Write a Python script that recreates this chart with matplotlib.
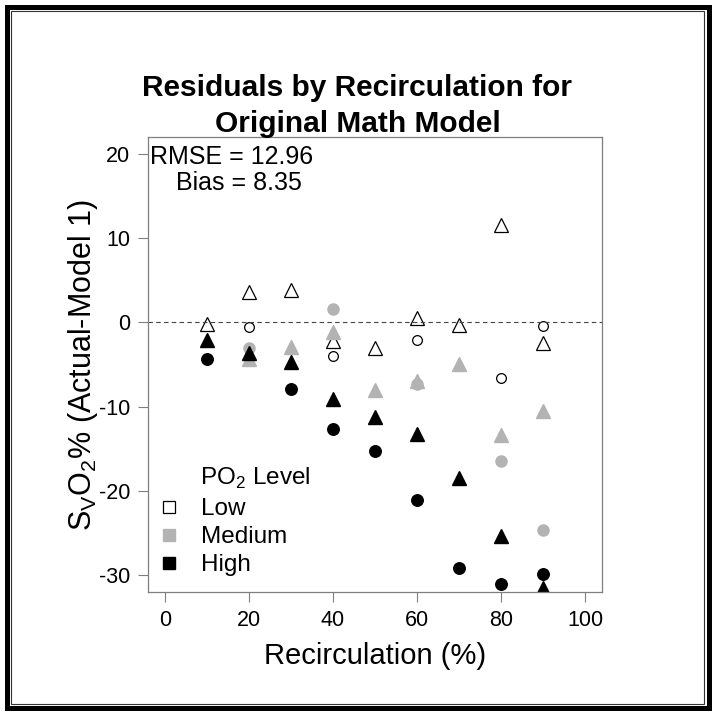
import numpy as np
import matplotlib
matplotlib.use("Agg")
from matplotlib import pyplot as plt
from matplotlib.lines import Line2D
from matplotlib.patches import Rectangle

plt.rcParams['font.family'] = ['Liberation Sans', 'DejaVu Sans']
plt.rcParams['mathtext.fontset'] = 'custom'
plt.rcParams['mathtext.rm'] = 'Liberation Sans'
plt.rcParams['axes.unicode_minus'] = False

nan = np.nan

# Recirculation levels (%)
recirc = [10, 20, 30, 40, 50, 60, 70, 80, 90]

# Residuals (triangles and circles per PO2 level)
low_tri = [-0.2, 3.6, 3.9, -2.2, -3.1, 0.5, -0.3, 11.6, -2.4]
low_circ = [nan, -0.5, nan, -4.0, nan, -2.1, nan, -6.6, -0.4]
med_tri = [nan, -4.4, -2.9, -1.1, -8.0, -7.0, -4.9, -13.4, -10.5]
med_circ = [nan, -3.1, nan, 1.6, nan, -7.3, nan, -16.5, -24.6]
high_tri = [-2.1, -3.6, -4.7, -9.1, -11.2, -13.2, -18.5, -25.3, -31.5]
high_circ = [-4.3, nan, -7.9, -12.7, -15.3, -21.1, -29.2, -31.1, -29.9]

levels = ['Low', 'Medium', 'High']
x_ticks = [0, 20, 40, 60, 80, 100]
y_ticks = [-30, -20, -10, 0, 10, 20]
rmse = 12.96
bias = 8.35

GRAY = '#b3b3b3'
AXC = '#7f7f7f'

fig = plt.figure(figsize=(7.15, 7.14), dpi=100)
W, H = 715, 714
ax = fig.add_axes([148 / W, 1 - 592 / H, (602 - 148) / W, (592 - 137) / H])

# Low: open markers
ax.plot(recirc, low_tri, ls='none', marker='^', ms=10, mfc='none', mec='black', mew=0.9)
ax.plot(recirc, low_circ, ls='none', marker='o', ms=7, mfc='none', mec='black', mew=0.9)
# Medium: gray
ax.plot(recirc, med_circ, ls='none', marker='o', ms=8, mfc=GRAY, mec=GRAY)
ax.plot(recirc, med_tri, ls='none', marker='^', ms=10, mfc=GRAY, mec=GRAY)
# High: black
ax.plot(recirc, high_circ, ls='none', marker='o', ms=8.3, mfc='black', mec='black')
ax.plot(recirc, high_tri, ls='none', marker='^', ms=10, mfc='black', mec='black')

ax.axhline(0, color='#444444', lw=0.8, ls=(0, (4, 3)))

ax.set_xlim(-4, 104)
ax.set_ylim(-32, 22)
ax.set_xticks(x_ticks)
ax.set_yticks(y_ticks)
ax.tick_params(axis='both', direction='out', length=7, width=0.8, color=AXC,
               labelsize=15.5, pad=6)
for s in ax.spines.values():
    s.set_color(AXC)
    s.set_linewidth(0.9)

ax.set_xlabel('Recirculation (%)', fontsize=21, labelpad=8)
ax.set_ylabel(r'S$_\mathregular{V}$O$_\mathregular{2}$% (Actual-Model 1)', fontsize=22, labelpad=-1)

# stats text
ax.text(0.004, 0.956, 'RMSE = %.2f' % rmse, transform=ax.transAxes, fontsize=18,
        ha='left', va='center')
ax.text(0.062, 0.899, 'Bias = %.2f' % bias, transform=ax.transAxes, fontsize=18,
        ha='left', va='center')

# legend
handles = [Line2D([], [], ls='none', marker='s', ms=8, mfc='none', mec='black', mew=0.9),
           Line2D([], [], ls='none', marker='s', ms=8, mfc=GRAY, mec=GRAY),
           Line2D([], [], ls='none', marker='s', ms=8, mfc='black', mec='black')]
ax.legend(handles, levels, loc='upper left', bbox_to_anchor=((157 - 148) / 454, (592 - 498) / 455),
          frameon=False, fontsize=17.5, handlelength=1.0, handletextpad=0.8,
          borderpad=0, borderaxespad=0, labelspacing=0.25)
ax.text((200 - 148) / 454, (592 - 478) / 455, r'PO$_\mathregular{2}$ Level', transform=ax.transAxes,
        fontsize=17.5, ha='left', va='center')

fig.text(0.5, 1 - 106 / H, 'Residuals by Recirculation for\nOriginal Math Model', ha='center',
         va='center', fontsize=21.5, fontweight='bold', linespacing=1.32)

# outer frame
fig.patches.append(Rectangle((6.5 / W, 1 - 708 / H), 702 / W, 701.5 / H, transform=fig.transFigure,
                             fill=False, ec='black', lw=3.6))
fig.patches.append(Rectangle((11 / W, 1 - 703.5 / H), 692.5 / W, 692.5 / H, transform=fig.transFigure,
                             fill=False, ec='#333333', lw=0.8))

fig.savefig('out.png', dpi=100, facecolor='white')
